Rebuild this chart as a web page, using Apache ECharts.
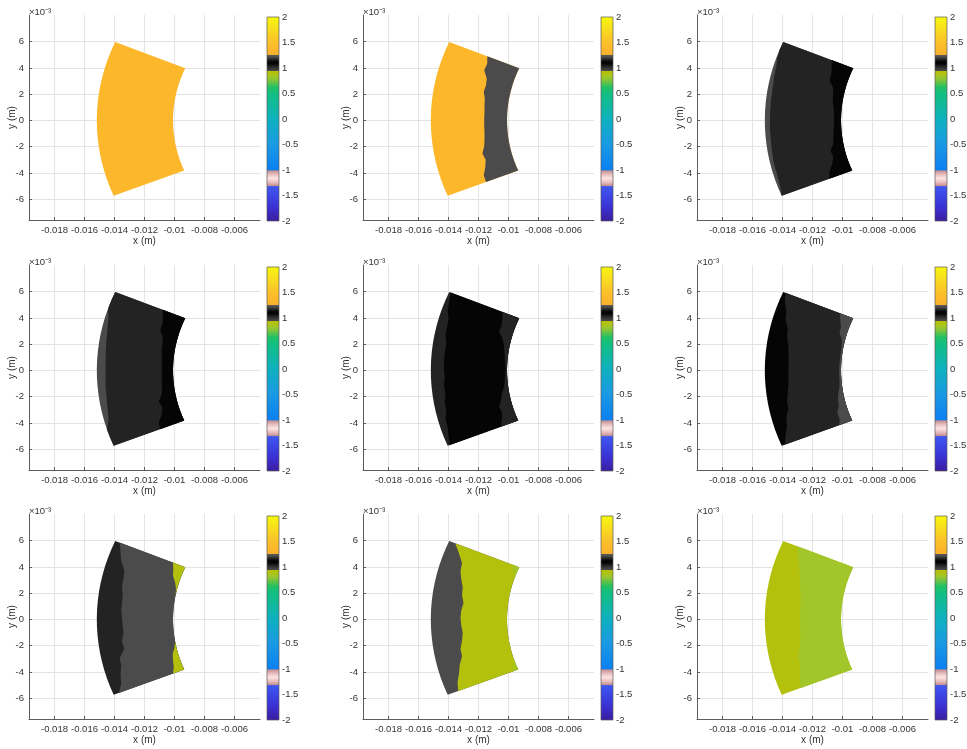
<!DOCTYPE html>
<html>
<head>
<meta charset="utf-8">
<script src="https://cdn.jsdelivr.net/npm/echarts@6/dist/echarts.min.js"></script>
<style>
  html, body { margin: 0; padding: 0; background: #ffffff; }
  #chart { width: 967px; height: 749px; }
</style>
</head>
<body>
<div id="chart"></div>
<script>
// ---------------------------------------------------------------
// Sector geometry (mm). Angles in degrees, measured from the -x
// direction, positive towards +y. Region boundaries are given as the
// x position (mm) of the interface at each sample angle; they are
// clipped to the sector between the inner and outer radius.
// ---------------------------------------------------------------
const sampleAngles = [23.2, 20.7, 18.2, 15.6, 13.1, 10.6, 8.1, 5.5, 3.0, 0.5,
                      -2.0, -4.5, -7.1, -9.6, -12.1, -14.6, -17.2, -19.7, -22.2];
const innerRadius = 10.1;
const outerRadius = 15.18;

// axis ticks (m) and colour bar ticks
const xTicks = [-0.018, -0.016, -0.014, -0.012, -0.01, -0.008, -0.006];
const yTicks = [-0.006, -0.004, -0.002, 0, 0.002, 0.004, 0.006];
const barTickStep = 0.5;
const barMin = -2;
const barMax = 2;

// colour scale: level -> colour
const scaleLevels = [2.0, 1.75, 1.5, 1.35, 1.256, 1.255, 1.21, 1.16, 1.12, 1.08, 1.03, 0.98, 0.936,
                     0.935, 0.9, 0.82, 0.75, 0.62, 0.5, 0.0, -0.5, -1.0,
                     -1.01, -1.08, -1.16, -1.24, -1.31, -1.32, -1.5, -1.75, -2.0];
const scaleColors = ['#f8f80e', '#f8dc1e', '#fbc12a', '#fcb72a', '#f9b12d', '#5c5c5c', '#4b4b4b', '#232323', '#050505', '#050505', '#232323', '#3a3a3a', '#4b4b4b',
                     '#b8bd0c', '#b3c10c', '#a0c62a', '#7cc33c', '#22c064', '#12bf80', '#0eb1be', '#1a99e4', '#0a80f2',
                     '#c28e90', '#e6bcbc', '#fde4e4', '#e6bcbc', '#c08a8c', '#3f58ef', '#3c45e6', '#3b2fcf', '#3b1c9e'];

// frame 1
const frame1Levels = [1.35];
const frame1Bounds = [];
// frame 2
const frame2Levels = [1.35, 1.21];
const frame2Bounds = [
  [-11.41, -11.42, -11.62, -11.45, -11.5, -11.65, -11.58, -11.6, -11.6, -11.62, -11.62, -11.6, -11.6, -11.62, -11.74, -11.52, -11.55, -11.65, -11.5]
];
// frame 3
const frame3Levels = [1.21, 1.16, 1.10];
const frame3Bounds = [
  [-16, -16, -14.35, -14.42, -14.55, -14.62, -14.7, -14.78, -14.82, -14.84, -14.84, -14.8, -14.75, -14.68, -14.6, -14.45, -14.3, -14.15, -16],
  [-10.72, -10.72, -10.75, -10.87, -10.62, -10.62, -10.65, -10.6, -10.57, -10.57, -10.58, -10.6, -10.6, -10.62, -10.8, -10.62, -10.68, -10.87, -10.87]
];
// frame 4
const frame4Levels = [1.21, 1.16, 1.10];
const frame4Bounds = [
  [-16, -16, -14.45, -14.4, -14.45, -14.5, -14.55, -14.58, -14.6, -14.6, -14.6, -14.6, -14.55, -14.5, -14.45, -14.4, -14.6, -16, -16],
  [-10.78, -10.78, -10.8, -10.95, -10.78, -10.8, -10.85, -10.85, -10.85, -10.85, -10.85, -10.85, -10.83, -10.85, -11.05, -10.8, -10.85, -11.05, -10.95]
];
// frame 5
const frame5Levels = [1.16, 1.10, 1.16];
const frame5Bounds = [
  [-13.85, -13.95, -14.05, -14.0, -14.1, -14.2, -14.15, -14.25, -14.3, -14.3, -14.25, -14.3, -14.2, -14.25, -14.15, -14.2, -14.05, -14.0, -13.9],
  [-10.4, -10.42, -10.45, -10.63, -10.4, -10.3, -10.28, -10.25, -10.22, -10.2, -10.22, -10.25, -10.3, -10.45, -10.5, -10.63, -10.42, -10.45, -10.5]
];
// frame 6
const frame6Levels = [1.10, 1.16, 1.21];
const frame6Bounds = [
  [-13.8, -13.85, -13.75, -13.8, -13.65, -13.7, -13.62, -13.6, -13.6, -13.6, -13.62, -13.6, -13.65, -13.7, -13.62, -13.75, -13.7, -13.8, -13.85],
  [-10.17, -10.15, -10.1, -10.2, -10.05, -10.05, -10.1, -10.15, -10.2, -10.22, -10.22, -10.2, -10.2, -10.28, -10.3, -10.25, -10.35, -10.2, -10.2]
];
// frame 7
const frame7Levels = [1.16, 1.21, 0.90];
const frame7Bounds = [
  [-13.65, -13.6, -13.55, -13.35, -13.4, -13.5, -13.45, -13.5, -13.55, -13.5, -13.45, -13.4, -13.5, -13.35, -13.65, -13.55, -13.6, -13.55, -13.7],
  [-10.1, -10.08, -10.1, -9.95, -9.9, -9.5, -9.5, -9.5, -9.5, -9.5, -9.5, -9.5, -9.5, -9.9, -10.0, -10.12, -10.1, -10.05, -10.1]
];
// frame 8
const frame8Levels = [1.21, 0.90, 0.84];
const frame8Bounds = [
  [-13.55, -13.3, -13.1, -13.2, -13.15, -13.05, -13.1, -13.0, -13.15, -13.2, -13.15, -13.05, -13.1, -13.2, -13.1, -13.25, -13.3, -13.4, -13.35],
  [-9.75, -9.65, -9.5, -9.5, -9.5, -9.5, -9.5, -9.5, -9.5, -9.5, -9.5, -9.5, -9.5, -9.5, -9.5, -9.5, -9.5, -9.65, -9.75]
];
// frame 9
const frame9Levels = [0.90, 0.82];
const frame9Bounds = [
  [-13.0, -12.95, -12.9, -12.85, -12.85, -12.82, -12.8, -12.8, -12.82, -12.82, -12.82, -12.8, -12.82, -12.85, -12.95, -12.85, -12.85, -12.82, -12.82]
];

const frames = [
  { levels: frame1Levels, bounds: frame1Bounds },
  { levels: frame2Levels, bounds: frame2Bounds },
  { levels: frame3Levels, bounds: frame3Bounds },
  { levels: frame4Levels, bounds: frame4Bounds },
  { levels: frame5Levels, bounds: frame5Bounds },
  { levels: frame6Levels, bounds: frame6Bounds },
  { levels: frame7Levels, bounds: frame7Bounds },
  { levels: frame8Levels, bounds: frame8Bounds },
  { levels: frame9Levels, bounds: frame9Bounds }
];

// ---------------------------------------------------------------
// helpers
// ---------------------------------------------------------------
const MM = 1e-3;
const DEG = Math.PI / 180;

function hexToRgb(h) {
  return [parseInt(h.slice(1, 3), 16), parseInt(h.slice(3, 5), 16), parseInt(h.slice(5, 7), 16)];
}
function colorAt(level) {
  if (level >= scaleLevels[0]) return scaleColors[0];
  for (let i = 0; i < scaleLevels.length - 1; i++) {
    const a = scaleLevels[i], b = scaleLevels[i + 1];
    if (level <= a && level >= b) {
      const t = (a - level) / (a - b);
      const ca = hexToRgb(scaleColors[i]), cb = hexToRgb(scaleColors[i + 1]);
      const c = ca.map((v, j) => Math.round(v + (cb[j] - v) * t));
      return 'rgb(' + c.join(',') + ')';
    }
  }
  return scaleColors[scaleColors.length - 1];
}
function polarToXY(r, angleDeg) {
  return [-r * Math.cos(angleDeg * DEG) * MM, r * Math.sin(angleDeg * DEG) * MM];
}
function boundaryRadius(xmm, angleDeg) {
  const r = -xmm / Math.cos(angleDeg * DEG);
  return Math.min(outerRadius, Math.max(innerRadius, r));
}

// each region is filled from its outer interface down to the inner arc,
// drawn outermost first so the inner regions sit on top
function regionRenderer(frame) {
  return function (params, api) {
    const k = params.dataIndex;
    const outer = k === 0 ? null : frame.bounds[k - 1];
    const pts = [];
    sampleAngles.forEach(function (a, i) {
      const r = outer ? boundaryRadius(outer[i], a) : outerRadius;
      pts.push(api.coord(polarToXY(r, a)));
    });
    for (let i = sampleAngles.length - 1; i >= 0; i--) {
      pts.push(api.coord(polarToXY(innerRadius, sampleAngles[i])));
    }
    return {
      type: 'polygon',
      shape: { points: pts },
      style: { fill: colorAt(frame.levels[k]) }
    };
  };
}

function barRenderer(params, api) {
  const p0 = api.coord([0, barMax]);
  const p1 = api.coord([1, barMin]);
  const stops = scaleLevels.map(function (v, i) {
    return { offset: (barMax - v) / (barMax - barMin), color: scaleColors[i] };
  });
  return {
    type: 'rect',
    shape: { x: p0[0], y: p0[1], width: p1[0] - p0[0], height: p1[1] - p0[1] },
    style: {
      fill: new echarts.graphic.LinearGradient(0, 0, 0, 1, stops),
      stroke: '#5a5a5a',
      lineWidth: 0.7
    }
  };
}

// ---------------------------------------------------------------
// layout
// ---------------------------------------------------------------
const colLeft = [29, 363, 697];
const rowTop = [15, 265, 514];
const plotW = 231, plotH = 205;
const barOffset = 238, barW = 12;

const FONT = 'Liberation Sans';
const TEXT = '#333333';
const AXIS = '#5c5c5c';

const grids = [], xAxes = [], yAxes = [], series = [], graphics = [];

frames.forEach(function (frame, f) {
  const left = colLeft[f % 3], top = rowTop[Math.floor(f / 3)];
  const g = grids.length;

  grids.push({ left: left, top: top, width: plotW, height: plotH, outerBoundsMode: 'none', containLabel: false });
  xAxes.push({
    gridIndex: g, type: 'value', min: -0.0197, max: -0.0043,
    axisLine: { show: true, onZero: false, lineStyle: { color: AXIS, width: 1 } },
    axisTick: { show: true, inside: true, length: 3, customValues: xTicks, lineStyle: { color: AXIS } },
    axisLabel: {
      customValues: xTicks, color: TEXT, fontSize: 9.5, fontFamily: FONT, margin: 5,
      formatter: function (v) { return String(Math.round(v * 1e4) / 1e4); }
    },
    splitLine: { show: true, lineStyle: { color: '#e4e4e4', width: 1 } },
    name: 'x (m)', nameLocation: 'middle', nameGap: 16.5, nameMoveOverlap: false,
    nameTextStyle: { color: TEXT, fontSize: 10, fontFamily: FONT }
  });
  yAxes.push({
    gridIndex: g, type: 'value', min: -0.00758, max: 0.00803,
    axisLine: { show: true, onZero: false, lineStyle: { color: AXIS, width: 1 } },
    axisTick: { show: true, inside: true, length: 3, customValues: yTicks, lineStyle: { color: AXIS } },
    axisLabel: {
      customValues: yTicks, color: TEXT, fontSize: 9.5, fontFamily: FONT, margin: 5,
      formatter: function (v) { return String(Math.round(v * 1000)); }
    },
    splitLine: { show: true, lineStyle: { color: '#e4e4e4', width: 1 } },
    name: 'y (m)', nameLocation: 'middle', nameGap: 12, nameMoveOverlap: false,
    nameTextStyle: { color: TEXT, fontSize: 10, fontFamily: FONT }
  });
  series.push({
    type: 'custom', xAxisIndex: g, yAxisIndex: g, silent: true,
    renderItem: regionRenderer(frame),
    data: frame.levels.map(function (v, k) { return [k, v]; })
  });

  // exponent marker above the y axis
  graphics.push({
    type: 'text', left: left, top: top - 8, silent: true,
    style: { text: '\u00d710\u207b\u00b3', fill: TEXT, font: '9.5px ' + FONT }
  });

  // colour bar
  const gb = grids.length;
  grids.push({ left: left + barOffset, top: top + 2, width: barW, height: 204, outerBoundsMode: 'none', containLabel: false });
  xAxes.push({ gridIndex: gb, type: 'value', min: 0, max: 1, show: false });
  yAxes.push({
    gridIndex: gb, type: 'value', position: 'right', min: barMin, max: barMax, interval: barTickStep,
    axisLine: { show: false }, axisTick: { show: false }, splitLine: { show: false },
    axisLabel: { color: TEXT, fontSize: 9.5, fontFamily: FONT, margin: 3 }
  });
  series.push({
    type: 'custom', xAxisIndex: gb, yAxisIndex: gb, silent: true,
    renderItem: barRenderer,
    data: [[0.5, 0]]
  });
});

const chart = echarts.init(document.getElementById('chart'), null, { renderer: 'canvas' });
chart.setOption({
  animation: false,
  backgroundColor: '#ffffff',
  grid: grids,
  xAxis: xAxes,
  yAxis: yAxes,
  series: series,
  graphic: graphics
});
</script>
</body>
</html>
